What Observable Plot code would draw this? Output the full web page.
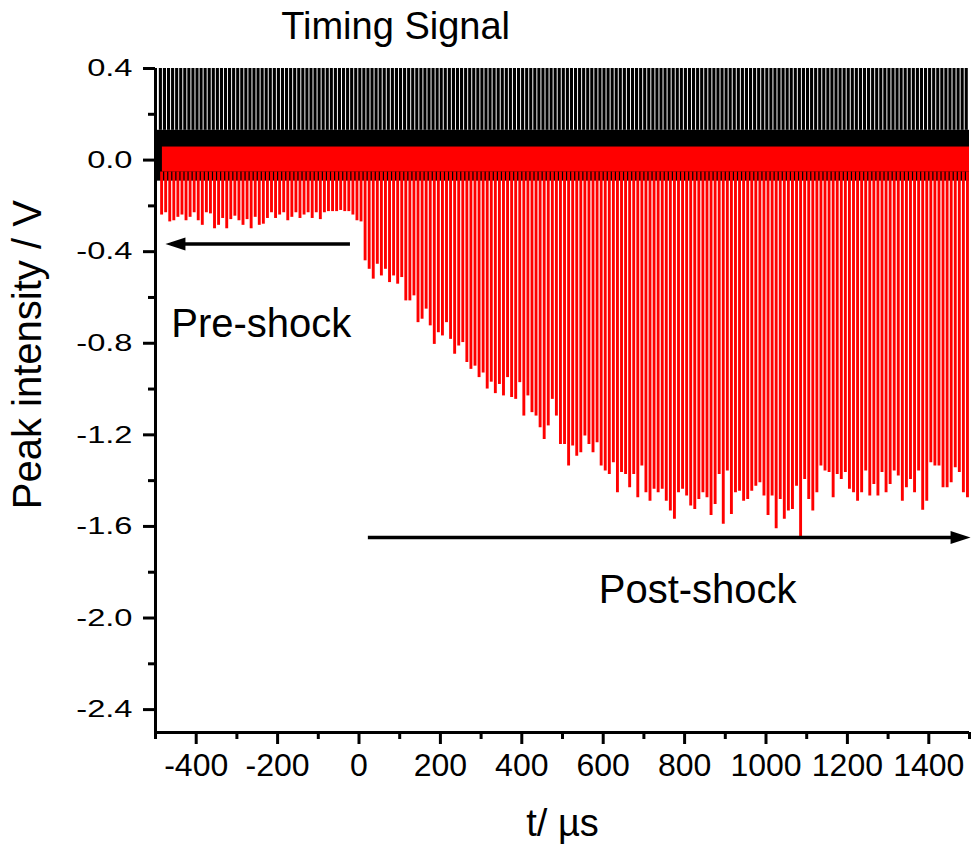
<!DOCTYPE html>
<html>
<head>
<meta charset="utf-8">
<script src="https://cdn.jsdelivr.net/npm/d3@7"></script>
<script src="https://cdn.jsdelivr.net/npm/@observablehq/plot@0.6"></script>
<style>
  body { margin: 0; background: #fff; }
  #chart svg { display: block; }
</style>
</head>
<body>
<div id="chart"></div>
<script>
// ---- data ----
const pulseStart = -485;     // µs, first laser pulse
const pulsePeriod = 10;      // µs between pulses
const timingShift = -3;      // µs, timing spikes relative to pulses

// red signal: minimum of each pulse (V), pre-shock (t < 0)
const preShockMin = [
  -0.24, -0.23, -0.27, -0.265, -0.25, -0.24, -0.265, -0.25, -0.23, -0.265,
  -0.285, -0.23, -0.235, -0.30, -0.285, -0.255, -0.30, -0.26, -0.245, -0.265,
  -0.285, -0.26, -0.30, -0.25, -0.285, -0.28, -0.255, -0.23, -0.255, -0.24,
  -0.23, -0.265, -0.25, -0.23, -0.255, -0.24, -0.23, -0.255, -0.23, -0.26,
  -0.23, -0.225, -0.225, -0.225, -0.22, -0.225, -0.225, -0.24, -0.265
];
// red signal: minimum of each pulse (V), post-shock (t > 0)
const postShockMin = [
  -0.27, -0.44, -0.477, -0.52, -0.455, -0.506, -0.477, -0.535, -0.506, -0.542,
  -0.513, -0.615, -0.615, -0.593, -0.71, -0.695, -0.651, -0.724, -0.805, -0.754,
  -0.768, -0.71, -0.783, -0.848, -0.812, -0.797, -0.884, -0.914, -0.90, -0.95,
  -0.93, -1.0, -0.97, -1.02, -0.98,
  -1.03, -0.95, -1.037, -1.045, -0.972, -1.118, -1.03, -1.103, -1.118, -1.169,
  -1.22, -1.161, -1.045, -1.118, -1.242, -1.242, -1.336, -1.249, -1.293, -1.278,
  -1.205, -1.242, -1.278, -1.234, -1.336, -1.358, -1.373, -1.322, -1.453, -1.365,
  -1.373, -1.431, -1.373, -1.475, -1.336, -1.453, -1.49, -1.438, -1.453, -1.438,
  -1.49, -1.533, -1.569, -1.453, -1.438, -1.467, -1.511, -1.526, -1.482, -1.453,
  -1.475, -1.552, -1.504, -1.373, -1.591, -1.358, -1.548, -1.453, -1.446, -1.49,
  -1.482, -1.446, -1.424, -1.409, -1.467, -1.552, -1.467, -1.61, -1.482, -1.569,
  -1.533, -1.526, -1.424, -1.65, -1.395, -1.482, -1.533, -1.453, -1.336, -1.358,
  -1.365, -1.475, -1.373, -1.395, -1.365, -1.438, -1.453, -1.49, -1.453, -1.358,
  -1.467, -1.417, -1.467, -1.365, -1.453, -1.417, -1.358, -1.38, -1.49, -1.431,
  -1.395, -1.453, -1.358, -1.529, -1.49, -1.322, -1.336, -1.336, -1.431, -1.431,
  -1.409, -1.344, -1.365, -1.453, -1.475
];
const timingHigh = 0.4;                 // V, timing spikes (clipped at top)
const timingBand = [-0.092, 0.13];      // V, dense black band
const signalBand = [-0.052, 0.057];     // V, dense red band

const xMajor = [-400, -200, 0, 200, 400, 600, 800, 1000, 1200, 1400];
const xMinor = [-500, -300, -100, 100, 300, 500, 700, 900, 1100, 1300, 1500];
const yMajor = [0.4, 0.0, -0.4, -0.8, -1.2, -1.6, -2.0, -2.4];
const yMinor = [0.2, -0.2, -0.6, -1.0, -1.4, -1.8, -2.2];

const annotations = [
  {x: 90,   y: 0.58,   text: "Timing Signal", size: 38, rotate: 0},
  {x: -240, y: -0.717, text: "Pre-shock",     size: 40, rotate: 0},
  {x: 832,  y: -1.88,  text: "Post-shock",    size: 40, rotate: 0},
  {x: 500,  y: -2.90,  text: "t/ \u00b5s",    size: 38, rotate: 0},
  {x: -812, y: -0.85,  text: "Peak intensity / V", size: 40, rotate: -90}
];
const arrowLines = [
  {x1: -460, x2: -21,  y: -0.367},
  {x1: 23,   x2: 1480, y: -1.648}
];
const arrowHeads = [
  {x: -451, y: -0.367, rotate: -90},
  {x: 1478, y: -1.648, rotate: 90}
];

// ---- build tables ----
const redMin = preShockMin.concat(postShockMin);
const pulses = redMin.map((v, i) => ({t: pulseStart + i * pulsePeriod, v}));
const timing = redMin.map((v, i) => ({t: pulseStart + timingShift + i * pulsePeriod}));

const arrowHead = {
  draw(ctx, size) {
    const r = Math.sqrt(size / Math.PI);
    ctx.moveTo(0, -r);
    ctx.lineTo(0.65 * r, r);
    ctx.lineTo(-0.65 * r, r);
    ctx.closePath();
  }
};

const chart = Plot.plot({
  width: 971,
  height: 845,
  marginLeft: 155,
  marginRight: 2,
  marginTop: 68,
  marginBottom: 113,
  style: {fontFamily: "'Liberation Sans', Arial, sans-serif", background: "#fff", color: "#000"},
  x: {domain: [-500, 1500]},
  y: {domain: [-2.5, 0.4]},
  marks: [
    Plot.rect([{x1: -500, x2: 1500, y1: timingBand[0], y2: timingBand[1]}],
      {x1: "x1", x2: "x2", y1: "y1", y2: "y2", fill: "#000"}),
    Plot.ruleX(timing, {x: "t", y1: timingBand[1], y2: timingHigh, stroke: "#000", strokeWidth: 3.1}),
    Plot.rect([{x1: pulseStart + 2, x2: 1500, y1: signalBand[0], y2: signalBand[1]}],
      {x1: "x1", x2: "x2", y1: "y1", y2: "y2", fill: "#ff0000"}),
    Plot.ruleX(pulses, {x: "t", y1: signalBand[0], y2: "v", stroke: "#ff0000", strokeWidth: 2.9}),
    Plot.ruleY(arrowLines, {y: "y", x1: "x1", x2: "x2", stroke: "#000", strokeWidth: 3.5}),
    Plot.dot(arrowHeads, {x: "x", y: "y", rotate: "rotate", symbol: arrowHead, r: 10, fill: "#000", stroke: "none"}),
    Plot.text(annotations, {x: "x", y: "y", text: "text", fontSize: "size", rotate: "rotate", fill: "#000"}),
    Plot.axisY(yMajor, {tickSize: 12, tickPadding: 11, strokeWidth: 3, fontSize: 24,
      tickFormat: d => d.toFixed(1), label: null}),
    Plot.axisY(yMinor, {tickSize: 7, strokeWidth: 3, fill: "none", label: null}),
    Plot.axisX(xMajor, {tickSize: 12, tickPadding: 9, strokeWidth: 3, fontSize: 32,
      tickFormat: d => String(d), label: null}),
    Plot.axisX(xMinor, {tickSize: 7, strokeWidth: 3, fill: "none", label: null}),
    Plot.ruleX([-500], {stroke: "#000", strokeWidth: 3}),
    Plot.ruleY([-2.5], {stroke: "#000", strokeWidth: 3})
  ]
});

// y tick labels in the original are horizontally stretched
chart.querySelectorAll('g[aria-label="y-axis tick label"] text').forEach(t => {
  const tr = t.getAttribute("transform") || "";
  t.setAttribute("transform", tr + " scale(1.36,1)");
});

document.getElementById("chart").append(chart);
</script>
</body>
</html>
